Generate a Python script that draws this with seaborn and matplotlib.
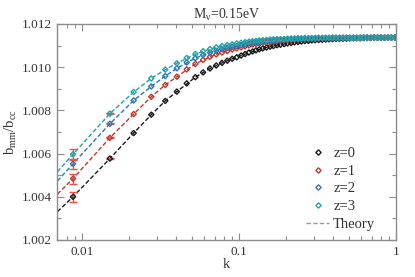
import matplotlib
matplotlib.use("Agg")
import matplotlib.pyplot as plt
from matplotlib.lines import Line2D
from matplotlib.ticker import MultipleLocator, FixedLocator, FixedFormatter, LogLocator, NullFormatter
import seaborn as sns
import pandas as pd

# ---- data ----
k = [0.0088, 0.0151, 0.0214, 0.0277, 0.0340, 0.0403, 0.0466, 0.0529, 0.0592, 0.0655,
     0.0718, 0.0781, 0.0844, 0.0907, 0.0970, 0.1033, 0.1096, 0.1159, 0.1222, 0.1285,
     0.135, 0.142, 0.150, 0.158, 0.166, 0.175, 0.184, 0.194, 0.204, 0.215,
     0.226, 0.238, 0.250, 0.263, 0.277, 0.291, 0.306, 0.322, 0.339, 0.357,
     0.375, 0.395, 0.415, 0.437, 0.460, 0.484, 0.509, 0.535, 0.563, 0.592,
     0.623, 0.655, 0.689, 0.725, 0.763, 0.803, 0.845, 0.889, 0.935, 0.984]

b_z0 = [1.00400, 1.00577, 1.00695, 1.00780, 1.00844, 1.00887, 1.00925, 1.00954, 1.00976, 1.00994,
        1.01008, 1.01020, 1.01030, 1.01039, 1.01046, 1.01054, 1.01061, 1.01068, 1.01073, 1.01078,
        1.01083, 1.01087, 1.01091, 1.01095, 1.01098, 1.01102, 1.01104, 1.01107, 1.01110, 1.01112,
        1.01115, 1.01117, 1.01119, 1.01121, 1.01122, 1.01124, 1.01125, 1.01126, 1.01127, 1.01128,
        1.01129, 1.01130, 1.01131, 1.01131, 1.01132, 1.01132, 1.01133, 1.01134, 1.01134, 1.01134,
        1.01135, 1.01135, 1.01135, 1.01136, 1.01136, 1.01136, 1.01136, 1.01137, 1.01137, 1.01137]
b_z1 = [1.00484, 1.00673, 1.00783, 1.00863, 1.00918, 1.00956, 1.00990, 1.01015, 1.01034, 1.01048,
        1.01059, 1.01068, 1.01075, 1.01082, 1.01087, 1.01092, 1.01097, 1.01101, 1.01105, 1.01108,
        1.01110, 1.01113, 1.01115, 1.01117, 1.01119, 1.01121, 1.01123, 1.01124, 1.01125, 1.01127,
        1.01128, 1.01129, 1.01130, 1.01131, 1.01131, 1.01132, 1.01133, 1.01133, 1.01134, 1.01134,
        1.01134, 1.01135, 1.01135, 1.01135, 1.01136, 1.01136, 1.01136, 1.01136, 1.01136, 1.01136,
        1.01137, 1.01137, 1.01137, 1.01137, 1.01137, 1.01137, 1.01137, 1.01137, 1.01137, 1.01137]
b_z2 = [1.00553, 1.00738, 1.00846, 1.00911, 1.00959, 1.00995, 1.01022, 1.01042, 1.01056, 1.01068,
        1.01076, 1.01084, 1.01089, 1.01094, 1.01098, 1.01102, 1.01106, 1.01110, 1.01113, 1.01115,
        1.01117, 1.01119, 1.01121, 1.01123, 1.01124, 1.01126, 1.01127, 1.01128, 1.01129, 1.01130,
        1.01131, 1.01132, 1.01132, 1.01133, 1.01133, 1.01134, 1.01134, 1.01135, 1.01135, 1.01135,
        1.01136, 1.01136, 1.01136, 1.01136, 1.01136, 1.01136, 1.01136, 1.01136, 1.01136, 1.01136,
        1.01137, 1.01137, 1.01137, 1.01137, 1.01137, 1.01137, 1.01137, 1.01137, 1.01137, 1.01137]
b_z3 = [1.00597, 1.00785, 1.00885, 1.00948, 1.00989, 1.01018, 1.01043, 1.01061, 1.01074, 1.01084,
        1.01092, 1.01098, 1.01102, 1.01106, 1.01110, 1.01113, 1.01116, 1.01118, 1.01120, 1.01122,
        1.01124, 1.01125, 1.01126, 1.01128, 1.01129, 1.01130, 1.01130, 1.01131, 1.01132, 1.01133,
        1.01133, 1.01134, 1.01134, 1.01135, 1.01135, 1.01135, 1.01136, 1.01136, 1.01136, 1.01136,
        1.01136, 1.01136, 1.01136, 1.01136, 1.01136, 1.01136, 1.01136, 1.01136, 1.01136, 1.01136,
        1.01137, 1.01137, 1.01137, 1.01137, 1.01137, 1.01137, 1.01137, 1.01137, 1.01137, 1.01137]

# error bars on the lowest-k bins
err_z0 = [0.00022, 0.00003]
err_z1 = [0.00023, 0.00003]
err_z2 = [0.00023, 0.00003]
err_z3 = [0.00025, 0.00003]

k_th = [0.007, 0.0088, 0.0151, 0.0214, 0.0277, 0.034, 0.0403, 0.0529, 0.0655, 0.0781,
        0.0907, 0.1033, 0.1285, 0.150, 0.175, 0.204, 0.250, 0.306, 0.375, 0.460,
        0.563, 0.689, 0.845, 1.0]
th_z0 = [1.00331, 1.00400, 1.00577, 1.00695, 1.00780, 1.00844, 1.00887, 1.00954, 1.00994, 1.01020,
         1.01039, 1.01054, 1.01078, 1.01091, 1.01102, 1.01110, 1.01119, 1.01125, 1.01129, 1.01132,
         1.01134, 1.01135, 1.01136, 1.01137]
th_z1 = [1.00412, 1.00484, 1.00673, 1.00783, 1.00863, 1.00918, 1.00956, 1.01015, 1.01048, 1.01068,
         1.01082, 1.01092, 1.01108, 1.01115, 1.01121, 1.01125, 1.01130, 1.01133, 1.01134, 1.01136,
         1.01136, 1.01137, 1.01137, 1.01137]
th_z2 = [1.00473, 1.00553, 1.00738, 1.00846, 1.00911, 1.00959, 1.00995, 1.01042, 1.01068, 1.01084,
         1.01094, 1.01102, 1.01115, 1.01121, 1.01126, 1.01129, 1.01132, 1.01134, 1.01136, 1.01136,
         1.01137, 1.01137, 1.01137, 1.01137]
th_z3 = [1.00516, 1.00597, 1.00785, 1.00885, 1.00948, 1.00989, 1.01018, 1.01061, 1.01084, 1.01098,
         1.01106, 1.01113, 1.01122, 1.01126, 1.01130, 1.01132, 1.01134, 1.01136, 1.01136, 1.01137,
         1.01137, 1.01137, 1.01137, 1.01137]

labels = ["z=0", "z=1", "z=2", "z=3"]
colors = ["#1a1a1a", "#c0392b", "#2e75b6", "#22a3a8"]
err_color = "#f0504a"

# ---- build tidy tables ----
pts = pd.concat([pd.DataFrame({"k": k, "b": b, "z": lab})
                 for b, lab in zip([b_z0, b_z1, b_z2, b_z3], labels)], ignore_index=True)
theory = pd.concat([pd.DataFrame({"k": k_th, "b": t, "z": lab})
                    for t, lab in zip([th_z0, th_z1, th_z2, th_z3], labels)], ignore_index=True)
errs = {"z=0": err_z0, "z=1": err_z1, "z=2": err_z2, "z=3": err_z3}

# ---- style ----
sns.set_style("ticks")
plt.rcParams["font.family"] = ["Liberation Serif", "DejaVu Serif"]
plt.rcParams["mathtext.fontset"] = "custom"
plt.rcParams["mathtext.rm"] = "Liberation Serif"
plt.rcParams["mathtext.it"] = "Liberation Serif:italic"
plt.rcParams["mathtext.default"] = "regular"

fig = plt.figure(figsize=(4.15, 2.77), dpi=100)
ax = fig.add_axes([57 / 415, 1 - 240 / 277, 339 / 415, 216 / 277])

palette = dict(zip(labels, colors))

# theory lines
sns.lineplot(data=theory, x="k", y="b", hue="z", palette=palette, ax=ax,
             linewidth=1.0, legend=False, sort=True, estimator=None)
for ln in ax.get_lines():
    ln.set_dashes([3.2, 1.6])

# error bars
for lab in labels:
    sub = pts[pts["z"] == lab].iloc[:len(errs[lab])]
    ax.errorbar(sub["k"], sub["b"], yerr=errs[lab], fmt="none", ecolor=err_color,
                elinewidth=1.0, capsize=2.6, capthick=1.0, zorder=3)

# data points
for lab in labels:
    sub = pts[pts["z"] == lab]
    sns.scatterplot(data=sub, x="k", y="b", ax=ax, marker="D", s=7,
                    color=palette[lab], legend=False, zorder=4)
    coll = ax.collections[-1]
    coll.set_facecolor("none")
    coll.set_edgecolor(palette[lab])
    coll.set_linewidth(1.0)

ax.set_xscale("log")
ax.set_xlim(0.00696, 1.0)
ax.set_ylim(1.002, 1.012)

ax.xaxis.set_major_locator(FixedLocator([0.01, 0.1, 1.0]))
ax.xaxis.set_major_formatter(FixedFormatter(["0.01", "0.1", "1"]))
ax.xaxis.set_minor_locator(LogLocator(base=10, subs=range(2, 10), numticks=20))
ax.xaxis.set_minor_formatter(NullFormatter())
ax.yaxis.set_major_locator(MultipleLocator(0.002))
ax.yaxis.set_minor_locator(MultipleLocator(0.001))
ax.yaxis.set_major_formatter(plt.FormatStrFormatter("%.3f"))

spine_col = "#8c8c8c"
for sp in ax.spines.values():
    sp.set_color(spine_col)
    sp.set_linewidth(1.0)
ax.tick_params(which="both", direction="in", top=True, right=True, color=spine_col,
               labelcolor="#333333", labelsize=9.5)
ax.tick_params(which="major", length=5, width=0.8, pad=4)
ax.tick_params(which="minor", length=3, width=0.8)

ax.set_xlabel("k", fontsize=10.5, color="#333333", labelpad=0)
ax.set_ylabel(r"b$_{\mathrm{mm}}$/b$_{\mathrm{cc}}$", fontsize=10.5, color="#333333", labelpad=2)
ax.set_title(r"M$_{\nu}$=0.15eV", fontsize=10, color="#333333", pad=4)

handles = [Line2D([], [], linestyle="none", marker="D", markersize=2.7,
                  markerfacecolor="none", markeredgecolor=c, markeredgewidth=1.0)
           for c in colors]
handles.append(Line2D([], [], color="#999999", linestyle="--", dashes=[3.2, 1.6], linewidth=1.0))
leg = ax.legend(handles, labels + ["Theory"], loc="upper left",
                bbox_to_anchor=(0.735, 0.43), frameon=False, fontsize=10.5,
                handlelength=1.6, handletextpad=0.25, labelspacing=0.3,
                borderpad=0, borderaxespad=0)
for t in leg.get_texts():
    t.set_color("#333333")

fig.savefig("out.png", dpi=100)
